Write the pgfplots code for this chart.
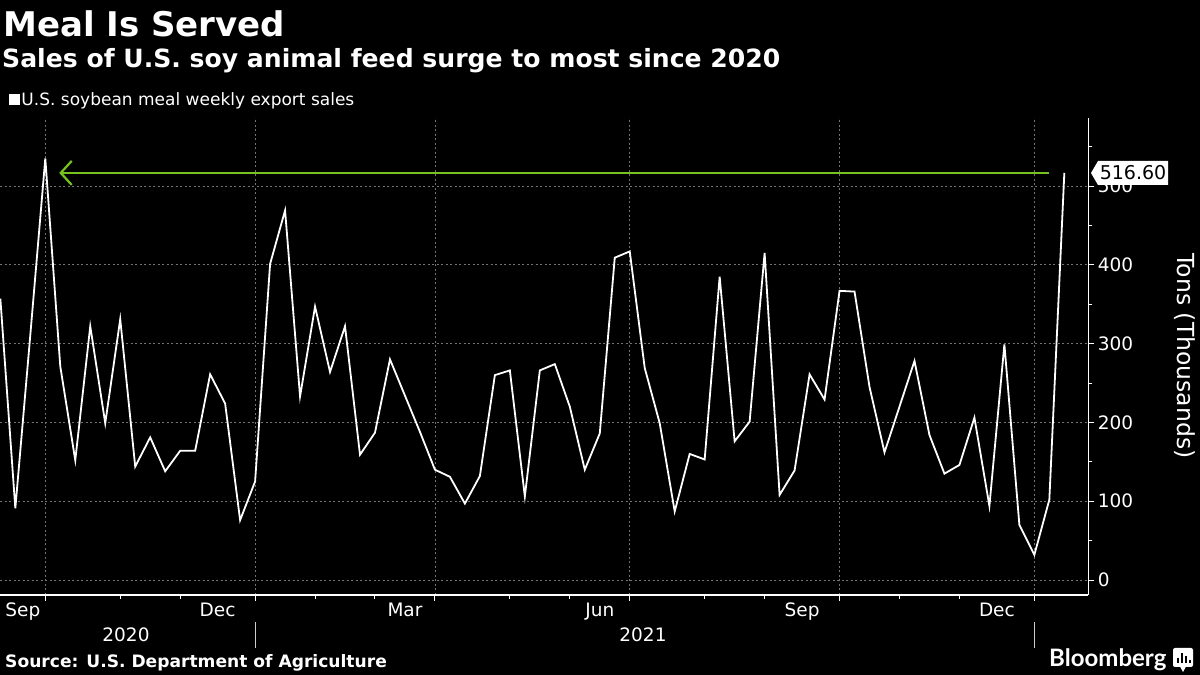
\documentclass[border=0pt]{standalone}
\usepackage{pgfplots}
\pgfplotsset{compat=1.18}
\usepackage{pgfplotstable}
\usepackage{fontspec}
\setmainfont{DejaVu Sans}
\newfontfamily\logofont{Lato}
\usetikzlibrary{arrows.meta}
\definecolor{bbgreen}{RGB}{118,194,30}
\definecolor{gridgray}{RGB}{115,115,115}

\pgfplotstableread{
i v
0 357
1 91
2 311
3 535
4 271
5 152
6 322
7 199
8 331
9 144
10 181
11 138
12 164
13 164
14 261
15 224
16 76
17 125
18 401
19 469
20 233
21 347
22 264
23 322
24 159
25 187
26 280
27 234
28 188
29 140
30 131
31 97
32 132
33 260
34 266
35 106
36 266
37 274
38 220
39 140
40 186
41 409
42 417
43 269
44 199
45 87
46 160
47 153
48 385
49 176
50 201
51 415
52 108
53 139
54 261
55 229
56 367
57 366
58 245
59 162
60 220
61 278
62 184
63 135
64 146
65 206
66 94
67 299
68 70
69 32
70 102
71 516.6
}\datatable

\begin{document}
\begin{tikzpicture}[x=1pt,y=1pt]
\fill[black] (0,0) rectangle (1200,675);
\useasboundingbox (0,0) rectangle (1200,675);
\begin{axis}[
  at={(0pt,80pt)}, anchor=south west,
  scale only axis, width=1088.3pt, height=477pt,
  xmin=-0.023, xmax=72.6, ymin=-19, ymax=586.3,
  axis x line*=bottom, axis y line*=right,
  axis line style={white, line width=1.2pt, -},
  xtick={3,17,29,42,56,69}, xticklabels={},
  minor xtick={8,12,21,25,34,38,47,51,60,64},
  extra x ticks={1.5,14.5,27,40,53.5,66.5},
  extra x tick labels={Sep,Dec,Mar,Jun,Sep,Dec},
  extra x tick style={major tick length=0pt, grid=none},
  ytick={0,100,200,300,400,500},
  minor ytick={50,150,250,350,450,550},
  tick align=outside,
  major tick length=6pt, minor tick length=4pt,
  every tick/.style={white, line width=1pt},
  xmajorgrids, ymajorgrids,
  grid style={gridgray, dash pattern=on 2pt off 2.5pt, line width=0.8pt},
  yticklabel pos=right,
  /pgf/number format/assume math mode=true,
  tick label style={font=\fontsize{18.5}{22}\selectfont, text=white},
  xticklabel style={anchor=base, yshift=-22pt},
  yticklabel style={anchor=west},
  legend style={at={(axis description cs:0.008,1.038)}, anchor=west, draw=none, fill=none, text=white, font=\fontsize{17}{20}\selectfont, inner sep=0pt, outer sep=0pt},
  legend image code/.code={\fill[white] (0pt,-4.5pt) rectangle (9pt,4.5pt);},
]
\addplot[white, line width=1.8pt] table[x=i,y=v]{\datatable};
\addlegendentry{U.S. soybean meal weekly export sales}
\draw[bbgreen, line width=2.5pt, -{Straight Barb[length=11pt,width=24pt,line width=2.2pt]}] (axis cs:69.98,516.6) -- (axis cs:3.93,516.6);
\end{axis}
% value tag
\fill[white] (1091,502) -- (1098,514) -- (1168,514) -- (1168,490) -- (1098,490) -- cycle;
\node[text=black, font=\fontsize{19}{23}\selectfont, inner sep=0pt] at (1133,502) {516.60};
% y label
\node[rotate=-90, text=white, font=\fontsize{23.5}{27}\selectfont, inner sep=0pt] at (1185,319) {Tons (Thousands)};
% year labels and separators
\draw[white!80!black, line width=0.8pt] (255,53) -- (255,27);
\draw[white!80!black, line width=0.8pt] (1034,53) -- (1034,27);
\node[anchor=base, text=white, font=\fontsize{18.5}{22}\selectfont, inner sep=0pt] at (126,33) {2020};
\node[anchor=base, text=white, font=\fontsize{18.5}{22}\selectfont, inner sep=0pt] at (643,33) {2021};
% titles
\node[anchor=base west, text=white, font=\bfseries\fontsize{34}{40}\selectfont, inner sep=0pt] at (3,638) {Meal Is Served};
\node[anchor=base west, text=white, font=\bfseries\fontsize{25.1}{30}\selectfont, inner sep=0pt] at (2,607) {Sales of U.S. soy animal feed surge to most since 2020};
\node[anchor=base west, text=white, font=\bfseries\fontsize{17.1}{20}\selectfont, inner sep=0pt] at (5,8) {Source: U.S. Department of Agriculture};
% logo
\node[anchor=base west, text=white, font=\logofont\bfseries\fontsize{24}{26}\selectfont, inner sep=0pt] at (1049,9) {Bloomberg};
\fill[white, rounded corners=2pt] (1173,8) rectangle (1193,27);
\fill[white] (1180,8.5) -- (1183,3) -- (1186,8.5) -- cycle;
\fill[black] (1177,12) rectangle (1179,17);
\fill[black] (1181,12) rectangle (1183,22);
\fill[black] (1185,12) rectangle (1187,19);
\fill[black] (1189,12) rectangle (1190.5,15);
\end{tikzpicture}
\end{document}
